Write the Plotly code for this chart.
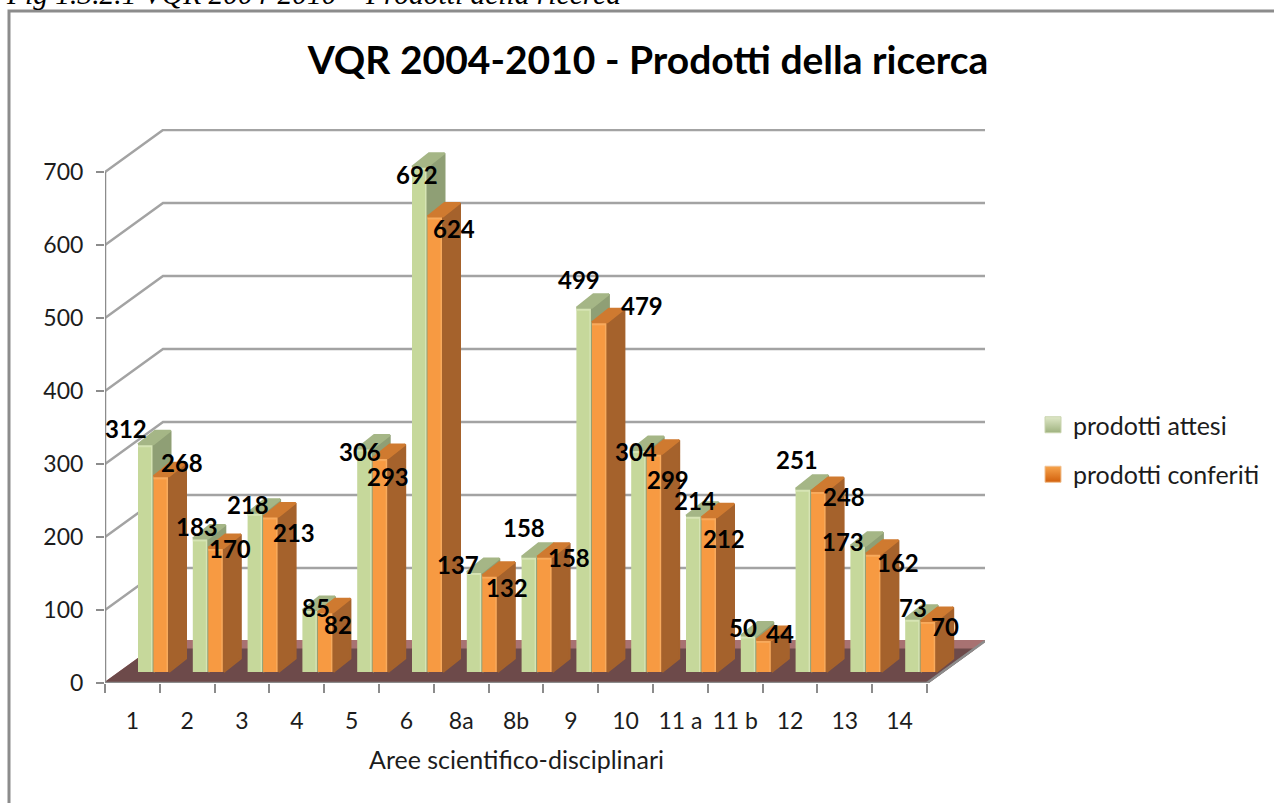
"""VQR 2004-2010 bar chart with a drawn 3D look."""

import plotly.graph_objects as go

# data
categories = ["1", "2", "3", "4", "5", "6", "8a", "8b", "9", "10", "11 a", "11 b", "12", "13", "14"]
attesi = [312, 183, 218, 85, 306, 692, 137, 158, 499, 304, 214, 50, 251, 173, 73]
conferiti = [268, 170, 213, 82, 293, 624, 132, 158, 479, 299, 212, 44, 248, 162, 70]
y_ticks = [0, 100, 200, 300, 400, 500, 600, 700]

# label offsets from the bar top, in pixels (right, up)
attesi_label_dx = [-20, -4, -7, 6, -5, -3, -17, -5, -5, -3, 1, -6, -6, -15, 0]
attesi_label_dy = [16, 12, 8, 2, -3, -8, 7, 29, 28, -1, 15, 8, 29, 4, 11]
conferiti_label_dx = [21, 14, 23, 12, 8, 19, 17, 24, 42, 14, 15, 16, 25, 24, 17]
conferiti_label_dy = [14, -1, -16, -12, -18, -12, -12, -1, 17, -26, -21, 6, -6, -9, -6]

# axis scale in pixels
PX_X = 54.8
PX_Y = 0.73
LEFT, TOP, RIGHT, BOTTOM = 105, 129, 985, 683
X_MAX = (RIGHT - LEFT) / PX_X
Y_MAX = (BOTTOM - TOP) / PX_Y

# 3D depth, in data units
WALL_DX = 58 / PX_X
WALL_DY = 42 / PX_Y
BAR_DX = 17 / PX_X
BAR_DY = 13.5 / PX_Y
BAR_W = 15.5 / PX_X
BAR_BASE = 11 / PX_Y
GREEN_X = 33 / PX_X + BAR_W / 2
ORANGE_X = GREEN_X + BAR_W
EDGE_W = 2.5 / PX_X
EDGE_H = 3 / PX_Y

GRID = "#a3a3a3"
AXIS = "#8c8c8c"
TEXT = "#1c1c1c"
FONT = "Lato"


def paper_x(px):
    return (px - LEFT) / (RIGHT - LEFT)


def paper_y(px):
    return (BOTTOM - px) / (BOTTOM - TOP)


def polygons(polys):
    """Joins polygons into x and y lists for one filled trace."""
    xs, ys = [], []
    for poly in polys:
        xs += [p[0] for p in poly] + [poly[0][0], None]
        ys += [p[1] for p in poly] + [poly[0][1], None]
    return xs, ys


def face(polys, color, zorder):
    xs, ys = polygons(polys)
    return go.Scatter(
        x=xs, y=ys, mode="lines", fill="toself", fillcolor=color,
        line=dict(color=color, width=2), hoverinfo="skip",
        showlegend=False, zorder=zorder,
    )


def series_traces(values, offset, front, edge, side, top, zorder):
    """Front bar plus its side and top faces, with a soft lighter bevel."""
    centers = [i + offset for i in range(len(values))]
    side_polys, top_polys = [], []
    for c, v in zip(centers, values):
        x0, x1 = c - BAR_W / 2, c + BAR_W / 2
        y1 = BAR_BASE + v
        side_polys.append([(x1, BAR_BASE), (x1 + BAR_DX, BAR_BASE + BAR_DY),
                           (x1 + BAR_DX, y1 + BAR_DY), (x1, y1)])
        top_polys.append([(x0, y1), (x1, y1), (x1 + BAR_DX, y1 + BAR_DY), (x0 + BAR_DX, y1 + BAR_DY)])
    return [
        face(side_polys, side, zorder),
        face(top_polys, top, zorder),
        go.Bar(
            x=centers, y=values, base=BAR_BASE, width=BAR_W,
            marker=dict(color=front, line=dict(width=0)),
            showlegend=False, hoverinfo="skip", zorder=zorder,
        ),
        go.Bar(
            x=[c + BAR_W / 2 - EDGE_W / 2 for c in centers], y=values, base=BAR_BASE, width=EDGE_W,
            marker=dict(color=edge, line=dict(width=0)),
            showlegend=False, hoverinfo="skip", zorder=zorder,
        ),
        go.Bar(
            x=centers, y=[EDGE_H] * len(values), base=[BAR_BASE + v - EDGE_H for v in values], width=BAR_W,
            marker=dict(color=edge, line=dict(width=0)),
            showlegend=False, hoverinfo="skip", zorder=zorder,
        ),
    ]


def value_labels(values, offset, dxs, dys):
    out = []
    for i, v in enumerate(values):
        out.append(dict(
            x=i + offset, y=BAR_BASE + v, text=f"<b>{v}</b>", showarrow=False,
            xshift=dxs[i], yshift=dys[i], font=dict(family=FONT, size=24, color="#000000"),
        ))
    return out


fig = go.Figure()

# floor
floor_back = [(0, 0), (len(categories), 0), (len(categories) + WALL_DX, WALL_DY), (WALL_DX, WALL_DY)]
fig.add_trace(face([floor_back], "#a87272", 0))
strip = WALL_DY * 0.8
fig.add_trace(face([[(0, 0), (len(categories), 0),
                     (len(categories) + WALL_DX * 0.8, strip), (WALL_DX * 0.8, strip)]], "#6d4a4a", 0))

# walls and gridlines
grid_x, grid_y = [], []
for t in y_ticks[1:]:
    grid_x += [0, WALL_DX, X_MAX, None]
    grid_y += [t, t + WALL_DY, t + WALL_DY, None]
fig.add_trace(go.Scatter(x=grid_x, y=grid_y, mode="lines", line=dict(color=GRID, width=2.5),
                         hoverinfo="skip", showlegend=False, zorder=0))
fig.add_trace(go.Scatter(
    x=[0, 0, None, 0, len(categories), None, len(categories), len(categories) + WALL_DX],
    y=[0, y_ticks[-1], None, 0, 0, None, 0, WALL_DY],
    mode="lines", line=dict(color=AXIS, width=2.5), hoverinfo="skip", showlegend=False, zorder=0,
))

# bars
for tr in series_traces(attesi, GREEN_X, "#c6d89b", "#d6e4b4", "#8f9f75", "#a5b686", 1):
    fig.add_trace(tr)
for tr in series_traces(conferiti, ORANGE_X, "#f79a42", "#f8aa5c", "#a5622c", "#cf7a30", 2):
    fig.add_trace(tr)

# legend entries
fig.add_trace(go.Scatter(
    x=[None], y=[None], mode="markers", name="prodotti attesi", legendgroup="a",
    marker=dict(symbol="square", size=16, color="#dfe8c8",
                gradient=dict(type="vertical", color="#9fb27f"), line=dict(color="#c9d4ae", width=1)),
))
fig.add_trace(go.Scatter(
    x=[None], y=[None], mode="markers", name="prodotti conferiti", legendgroup="b",
    marker=dict(symbol="square", size=16, color="#f7a44c",
                gradient=dict(type="vertical", color="#d2600c"), line=dict(color="#f0c090", width=1)),
))

annotations = value_labels(attesi, GREEN_X, attesi_label_dx, attesi_label_dy)
annotations += value_labels(conferiti, ORANGE_X, conferiti_label_dx, conferiti_label_dy)
annotations.append(dict(
    x=paper_x(516), y=paper_y(759), xref="paper", yref="paper", showarrow=False,
    xanchor="center", yanchor="middle",
    text="Aree scientifico-disciplinari", font=dict(family=FONT, size=25, color=TEXT),
))
annotations.append(dict(
    x=paper_x(4), y=paper_y(-6), xref="paper", yref="paper", showarrow=False,
    xanchor="left", yanchor="middle",
    text="<i>Fig 1.3.2.1 VQR 2004-2010 – Prodotti della ricerca</i>",
    font=dict(family="Liberation Serif", size=29.5, color="#000000"),
))

fig.update_layout(
    width=1274,
    height=803,
    margin=dict(l=LEFT, r=1274 - RIGHT, t=TOP, b=803 - BOTTOM, autoexpand=False),
    paper_bgcolor="white",
    plot_bgcolor="white",
    barmode="overlay",
    title=dict(
        text="<b>VQR 2004-2010 - Prodotti della ricerca</b>",
        x=648 / 1274, y=1 - 60 / 803, xanchor="center", yanchor="middle",
        font=dict(family=FONT, size=39, color="#000000"),
    ),
    xaxis=dict(
        range=[0, X_MAX],
        tickvals=[i + 0.5 for i in range(len(categories))],
        ticktext=categories,
        ticks="",
        ticklabelstandoff=22,
        minor=dict(tickvals=list(range(len(categories) + 1)), ticks="outside", ticklen=9,
                   tickcolor=AXIS, tickwidth=2),
        showgrid=False,
        zeroline=False,
        showline=False,
        tickfont=dict(family=FONT, size=23, color=TEXT),
    ),
    yaxis=dict(
        range=[0, Y_MAX],
        tickvals=y_ticks,
        ticks="outside",
        ticklen=8,
        tickwidth=2,
        tickcolor=AXIS,
        ticklabelstandoff=8,
        showgrid=False,
        zeroline=False,
        showline=False,
        tickfont=dict(family=FONT, size=23, color=TEXT),
    ),
    legend=dict(
        x=paper_x(1033), y=paper_y(402), xanchor="left", yanchor="top",
        tracegroupgap=14, bgcolor="rgba(0,0,0,0)",
        font=dict(family=FONT, size=25, color=TEXT),
    ),
    annotations=annotations,
    shapes=[dict(
        type="rect", xref="paper", yref="paper", layer="below",
        x0=paper_x(9), y0=paper_y(840), x1=paper_x(1320), y1=paper_y(11),
        line=dict(color=AXIS, width=3),
    )],
)

fig.write_html("out.html", post_script="document.body.style.margin='0';", config=dict(displayModeBar=False))
